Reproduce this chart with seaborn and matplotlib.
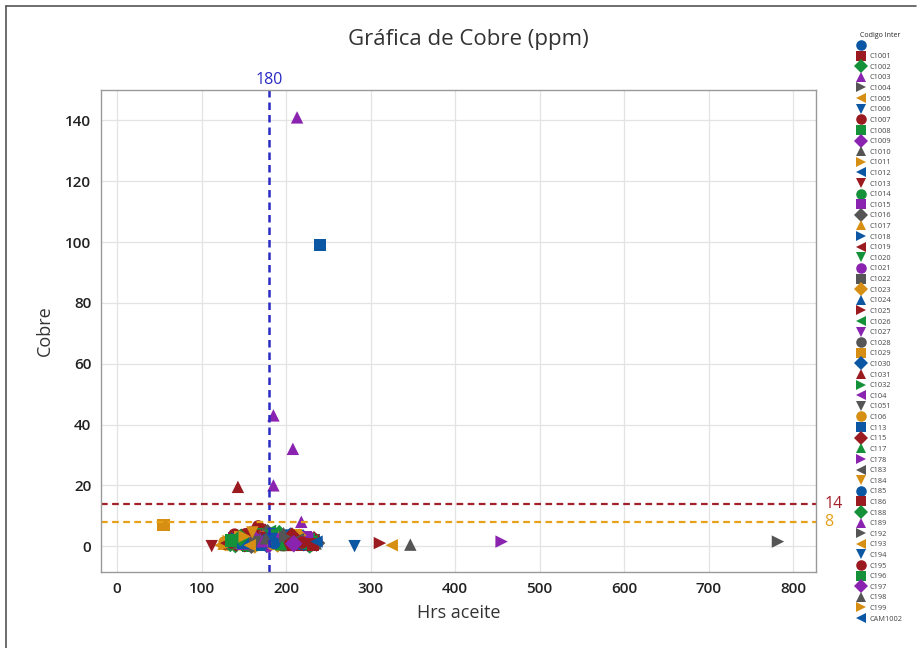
import matplotlib
matplotlib.use("Agg")
import matplotlib.pyplot as plt
from matplotlib.lines import Line2D
import seaborn as sns
import pandas as pd

# ---------------- data ----------------
codes = [" ", "C1001", "C1002", "C1003", "C1004", "C1005", "C1006", "C1007", "C1008",
         "C1009", "C1010", "C1011", "C1012", "C1013", "C1014", "C1015", "C1016",
         "C1017", "C1018", "C1019", "C1020", "C1021", "C1022", "C1023", "C1024",
         "C1025", "C1026", "C1027", "C1028", "C1029", "C1030", "C1031", "C1032",
         "C104", "C1051", "C106", "C113", "C115", "C117", "C178", "C183", "C184",
         "C185", "C186", "C188", "C189", "C192", "C193", "C194", "C195", "C196",
         "C197", "C198", "C199", "CAM1002"]

# first batch: per-code points (includes the outliers)
codigo_pts = (
    [" "] * 3 + ["C1001"] * 3 + ["C1002"] * 3 + ["C1003"] * 4 + ["C1004"] * 3 +
    ["C1005"] * 3 + ["C1006"] * 3 + ["C1007"] * 3 + ["C1008"] * 3 + ["C1009"] * 3 +
    ["C1010"] * 3 + ["C1011"] * 3 + ["C1012"] * 3 + ["C1013"] * 3 + ["C1014"] * 3 +
    ["C1015"] * 3 + ["C1016"] * 3 + ["C1017"] * 3 + ["C1018"] * 3 + ["C1019"] * 3 +
    ["C1020"] * 3 + ["C1021"] * 3 + ["C1022"] * 3 + ["C1023"] * 3 + ["C1024"] * 3 +
    ["C1025"] * 3 + ["C1026"] * 3 + ["C1027"] * 3 + ["C1028"] * 3 + ["C1029"] * 3 +
    ["C1030"] * 3 + ["C1031"] * 3 + ["C1032"] * 3 + ["C104"] * 3 + ["C1051"] * 3 +
    ["C106"] * 3 + ["C113"] * 3 + ["C115"] * 3 + ["C117"] * 3 + ["C178"] * 3 +
    ["C183"] * 3 + ["C184"] * 3 + ["C185"] * 3 + ["C186"] * 3 + ["C188"] * 3 +
    ["C189"] * 5 + ["C192"] * 3 + ["C193"] * 3 + ["C194"] * 3 + ["C195"] * 3 +
    ["C196"] * 3 + ["C197"] * 3 + ["C198"] * 3 + ["C199"] * 3 + ["CAM1002"] * 3
)

hrs_pts = [
    150, 176, 204,   162, 190, 221,   140, 185, 212,   213, 208, 165, 196,
    782, 158, 200,   122, 171, 226,   281, 145, 198,   167, 137, 215,
    155, 193, 230,   148, 180, 207,   347, 160, 222,   130, 188, 214,
    143, 169, 201,   112, 178, 232,   152, 197, 219,   139, 166, 210,
    157, 205, 236,   126, 174, 216,   145, 183, 228,   135, 170, 199,
    150, 192, 223,   159, 186, 211,   144, 176, 233,   131, 163, 202,
    147, 181, 217,   311, 154, 195,   138, 172, 225,   149, 189, 208,
    161, 203, 234,   55, 142, 191,    153, 177, 220,   143, 133, 168,
    146, 185, 213,   136, 164, 206,   156, 182, 229,   141, 173, 215,
    240, 158, 194,   151, 175, 204,   129, 167, 210,   455, 162, 199,
    144, 187, 231,   137, 171, 205,   160, 193, 224,   148, 179, 218,
    134, 168, 201,   185, 185, 218, 155, 209,   142, 184, 227,
    325, 158, 212,   150, 176, 221,   139, 170, 196,   154, 187, 214,
    146, 178, 207,   163, 197, 235,   132, 166, 203,   157, 190, 226,
]

cobre_pts = [
    2.0, 3.5, 1.0,   1.5, 2.5, 0.8,   0.5, 1.8, 2.2,   141, 32, 1.2, 0.6,
    1.5, 2.8, 1.0,   0.3, 1.5, 2.0,   0.0, 1.0, 0.4,   6.5, 2.0, 1.2,
    0.2, 1.4, 0.8,   1.8, 0.6, 2.6,   0.5, 3.8, 1.6,   1.0, 2.2, 1.8,
    0.4, 1.2, 3.0,   0.0, 2.8, 0.6,   1.0, 0.3, 2.4,   2.6, 0.9, 1.5,
    3.2, 1.9, 1.0,   0.8, 2.0, 2.9,   1.6, 0.5, 1.3,   0.2, 3.3, 1.7,
    0.7, 1.1, 0.4,   1.4, 2.6, 0.9,   2.9, 1.6, 1.9,   1.2, 0.4, 2.1,
    0.9, 3.6, 1.1,   1.0, 2.3, 0.7,   1.5, 0.8, 1.6,   3.0, 1.3, 0.5,
    4.2, 2.0, 1.1,   7.0, 1.9, 0.8,   2.2, 0.6, 2.7,   19.5, 0.9, 2.4,
    1.1, 2.9, 1.4,   2.4, 1.7, 0.3,   0.5, 1.4, 2.2,   3.4, 2.5, 0.9,
    99.0, 1.0, 2.0,  0.8, 4.6, 1.5,   1.9, 0.5, 3.1,   1.5, 2.1, 0.9,
    1.2, 3.2, 0.6,   0.6, 1.9, 2.5,   2.7, 0.8, 1.4,   1.3, 2.4, 0.4,
    0.9, 1.3, 2.0,   43, 20, 8, 2.2, 1.0,   2.5, 1.0, 1.7,
    0.3, 2.8, 1.2,   0.5, 1.6, 0.2,   3.8, 1.1, 2.3,   0.4, 1.8, 1.0,
    2.0, 0.7, 1.6,   2.6, 1.5, 0.9,   1.7, 2.9, 0.5,   1.0, 2.2, 1.3,
]

# second and third batches: one more cluster point per code (in codes order)
hrs_pts2 = [168, 201, 147, 222, 183, 139, 160, 194, 172, 226, 153, 208, 187, 165,
            231, 149, 178, 214, 142, 199, 170, 224, 157, 190, 135, 212, 181, 163,
            229, 146, 205, 174, 218, 152, 196, 127, 185, 233, 161, 209, 144, 176,
            221, 158, 192, 138, 215, 167, 203, 150, 227, 180, 141, 198, 173]
cobre_pts2 = [1.3, 0.6, 2.9, 1.7, 3.1, 0.4, 2.2, 1.0, 4.0, 0.8, 1.9, 2.7, 0.3, 3.4,
              1.5, 0.9, 4.4, 1.2, 2.5, 0.5, 1.8, 2.3, 3.7, 0.7, 1.4, 2.0, 5.0, 1.1,
              0.2, 2.8, 3.3, 0.9, 1.6, 4.8, 0.6, 1.2, 3.9, 2.1, 0.4, 1.7, 2.6, 3.0,
              0.8, 1.5, 4.1, 2.3, 0.5, 1.9, 3.5, 1.0, 2.4, 0.7, 1.3, 2.8, 3.6]
hrs_pts3 = [192, 145, 228, 171, 137, 204, 185, 152, 219, 164, 197, 133, 210, 176,
            148, 223, 159, 188, 206, 129, 182, 154, 197, 216, 168, 143, 230, 189,
            155, 212, 174, 200, 137, 225, 166, 184, 149, 207, 194, 141, 214, 160,
            186, 232, 146, 172, 199, 157, 183, 219, 135, 209, 176, 151, 236]
cobre_pts3 = [0.9, 2.1, 0.4, 3.2, 1.6, 2.5, 0.7, 3.9, 1.1, 2.0, 4.3, 1.4, 0.6, 2.7,
              1.8, 3.0, 0.3, 1.9, 2.4, 1.0, 3.5, 0.8, 1.5, 2.9, 0.5, 1.3, 1.7, 2.2,
              0.9, 3.6, 1.2, 0.4, 2.0, 2.6, 1.4, 0.7, 1.1, 3.3, 0.6, 1.8, 2.3, 4.5,
              1.0, 0.5, 2.8, 1.6, 3.1, 0.3, 2.4, 1.2, 1.9, 0.8, 2.6, 3.2, 1.5]

ref_x = [180]
ref_y = [14, 8]
x_ticks = [0, 100, 200, 300, 400, 500, 600, 700, 800]
y_ticks = [0, 20, 40, 60, 80, 100, 120, 140]

# ---------------- style ----------------
base_colors = ["#0b57a4", "#9a1a1f", "#15913a", "#8a23b0", "#555555", "#d68f12"]
base_markers = ["o", "s", "D", "^", ">", "<", "v"]
palette = {c: base_colors[i % 6] for i, c in enumerate(codes)}
markers = {c: base_markers[i % 7] for i, c in enumerate(codes)}

df = pd.concat([
    pd.DataFrame({"Codigo": codigo_pts, "Hrs aceite": hrs_pts, "Cobre": cobre_pts}),
    pd.DataFrame({"Codigo": codes, "Hrs aceite": hrs_pts2, "Cobre": cobre_pts2}),
    pd.DataFrame({"Codigo": codes, "Hrs aceite": hrs_pts3, "Cobre": cobre_pts3}),
], ignore_index=True)

sns.set_theme(style="whitegrid")
plt.rcParams["font.family"] = ["Open Sans", "DejaVu Sans"]

fig = plt.figure(figsize=(9.17, 6.48), dpi=100)
ax = fig.add_axes([101 / 917, 1 - 572 / 648, 715 / 917, 482 / 648])

sns.scatterplot(data=df, x="Hrs aceite", y="Cobre", hue="Codigo", style="Codigo",
                hue_order=codes, style_order=codes, palette=palette, markers=markers,
                s=80, linewidth=0, ax=ax, legend="full")

ax.set_xlim(-19, 827)
ax.set_ylim(-8.5, 150)
ax.set_xticks(x_ticks)
ax.set_yticks(y_ticks)
ax.grid(True, color="#e3e3e3", linewidth=0.9)
for sp in ax.spines.values():
    sp.set_color("#9a9a9a")
    sp.set_linewidth(1.0)
ax.tick_params(axis="both", which="major", length=4, width=0.8, color="#9a9a9a",
               labelsize=11, labelcolor="#222222", pad=3)
for lab in ax.get_xticklabels() + ax.get_yticklabels():
    lab.set_fontweight("semibold")

ax.set_xlabel("Hrs aceite", fontsize=13, color="#333333", labelpad=6)
ax.set_ylabel("Cobre", fontsize=13, color="#333333", labelpad=8)
fig.text(468 / 917, 1 - 40 / 648, "Gráfica de Cobre (ppm)", ha="center", va="center",
         fontsize=16, color="#333333")

# reference lines
ax.axvline(ref_x[0], color="#2a2ac4", linestyle=(0, (3, 2)), linewidth=1.8, zorder=1)
ax.text(ref_x[0], 1.005, str(ref_x[0]), transform=ax.get_xaxis_transform(),
        ha="center", va="bottom", fontsize=11.5, color="#2a2ac4")
ref_colors = ["#a3202a", "#e6a019"]
for yv, col in zip(ref_y, ref_colors):
    ax.axhline(yv, color=col, linestyle=(0, (3, 2)), linewidth=1.6, zorder=1)
    ax.text(1.012, yv, str(yv), transform=ax.get_yaxis_transform(), ha="left",
            va="center", fontsize=11.5, color=col)

# legend
handles, labels = ax.get_legend_handles_labels()
if ax.get_legend() is not None:
    ax.get_legend().remove()
leg = fig.legend(handles, labels, loc="upper left",
                 bbox_to_anchor=(857 / 917, 1 - 32 / 648), frameon=False,
                 fontsize=5.3, title="Codigo Inter", title_fontsize=5,
                 markerscale=0.85, labelspacing=0.47, handletextpad=0.7,
                 handlelength=1.0, borderpad=0.0, borderaxespad=0.0)
for t in leg.get_texts():
    t.set_color("#444444")

# outer frame (top & left)
fig.add_artist(Line2D([6 / 917, 6 / 917], [0, 1 - 6 / 648], color="#555555", linewidth=1.2))
fig.add_artist(Line2D([6 / 917, 0.999], [1 - 6 / 648, 1 - 6 / 648], color="#555555", linewidth=1.2))

fig.savefig("out.png", dpi=100)
